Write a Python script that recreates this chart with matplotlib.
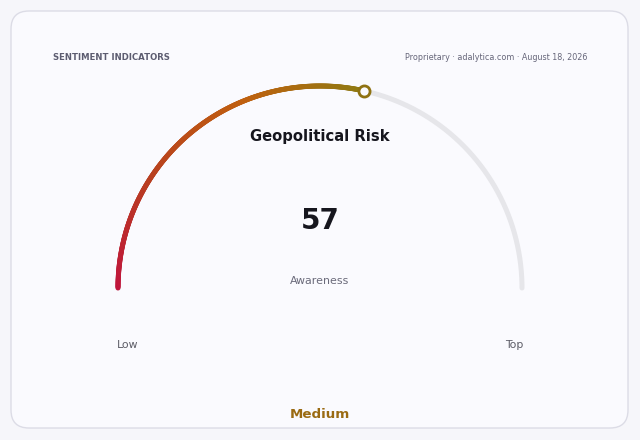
import numpy as np
import matplotlib
matplotlib.use("Agg")
from matplotlib import pyplot as plt
from matplotlib.collections import LineCollection
from matplotlib.colors import LinearSegmentedColormap
from matplotlib.patches import FancyBboxPatch

# gauge data
title = "Geopolitical Risk"
value = 57
min_value = 0
max_value = 100
value_label = "Awareness"
low_label = "Low"
high_label = "Top"
band_label = "Medium"
header_left = "SENTIMENT INDICATORS"
header_right = "Proprietary · adalytica.com · August 18, 2026"

gauge_colors = ["#c0143c", "#b8401f", "#c0600f", "#8f7a12"]

fig = plt.figure(figsize=(6.4, 4.4), dpi=100)
fig.patch.set_facecolor("#f6f6fa")
ax = fig.add_axes([0, 0, 1, 1])
ax.set_xlim(0, 640)
ax.set_ylim(440, 0)
ax.axis("off")

# card
card = FancyBboxPatch((11, 11), 617, 417, boxstyle="round,pad=0,rounding_size=18",
                      facecolor="#fafafe", edgecolor="#dcdce6", linewidth=1.0)
ax.add_patch(card)

cx, cy, r = 320, 288, 202
frac = (value - min_value) / (max_value - min_value)

# background track
t = np.linspace(np.pi, 0, 300)
ax.plot(cx + r * np.cos(t), cy - r * np.sin(t), color="#e6e6ea", lw=3.6,
        solid_capstyle="round", zorder=2)

# value arc with gradient
end_angle = np.pi * (1 - frac)
t = np.linspace(np.pi, end_angle, 400)
xs = cx + r * np.cos(t)
ys = cy - r * np.sin(t)
pts = np.column_stack([xs, ys]).reshape(-1, 1, 2)
segs = np.concatenate([pts[:-1], pts[1:]], axis=1)
cmap = LinearSegmentedColormap.from_list("gauge", gauge_colors)
lc = LineCollection(segs, cmap=cmap, linewidths=3.6, capstyle="round", zorder=3)
lc.set_array(np.linspace(0, 1, len(segs)))
ax.add_collection(lc)

# end marker
ax.plot(cx + r * np.cos(end_angle), cy - r * np.sin(end_angle), "o", ms=8,
        mfc="#fafafe", mec="#8f7212", mew=2.0, zorder=4)

# texts
ax.text(53, 57, header_left, fontsize=6.1, fontweight="bold", color="#5c5c70",
        ha="left", va="center")
ax.text(587, 57, header_right, fontsize=5.8, color="#66667a", ha="right", va="center")
ax.text(cx, 137, title, fontsize=10.6, fontweight="bold", color="#16161e",
        ha="center", va="center")
ax.text(cx, 221, str(value), fontsize=20, fontweight="bold", color="#16161e",
        ha="center", va="center")
ax.text(cx, 281, value_label, fontsize=7.9, color="#6a6a7a", ha="center", va="center")
ax.text(117, 345, low_label, fontsize=7.8, color="#5c5c66", ha="left", va="center")
ax.text(523, 345, high_label, fontsize=7.8, color="#5c5c66", ha="right", va="center")
ax.text(cx, 414, band_label, fontsize=9.6, fontweight="bold", color="#9a6a12",
        ha="center", va="center")

fig.savefig("out.png", dpi=100, facecolor=fig.get_facecolor())
